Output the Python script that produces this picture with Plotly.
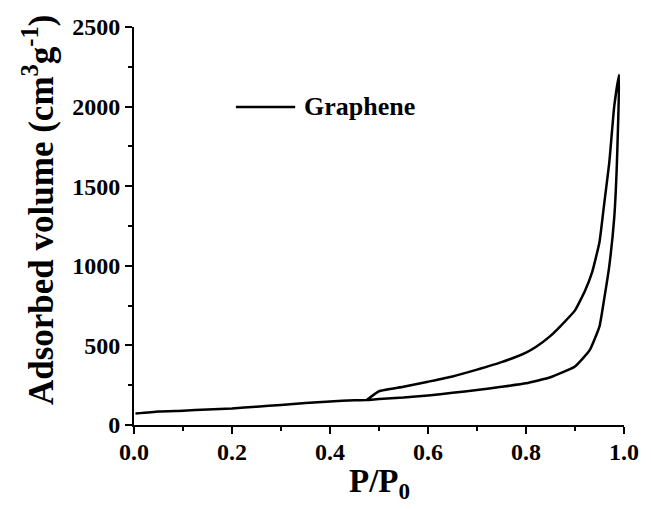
import plotly.graph_objects as go

# Adsorption branch (P/P0, adsorbed volume cm3/g)
p_ads = [0.003, 0.05, 0.10, 0.15, 0.20, 0.25, 0.30, 0.35, 0.40, 0.45, 0.475, 0.50, 0.55, 0.60,
         0.65, 0.70, 0.75, 0.80, 0.85, 0.90, 0.93, 0.95, 0.96, 0.97, 0.98, 0.985, 0.99]
v_ads = [72, 85, 90, 97, 104, 115, 126, 138, 148, 155, 157, 163, 172, 185,
         202, 220, 240, 262, 300, 368, 470, 620, 800, 1000, 1300, 1600, 2200]

# Desorption branch
p_des = [0.98, 0.97, 0.96, 0.95, 0.935, 0.92, 0.90, 0.87, 0.85, 0.82, 0.80, 0.75, 0.70,
         0.65, 0.60, 0.55, 0.50, 0.475]
v_des = [2000, 1650, 1400, 1150, 960, 840, 720, 620, 560, 490, 455, 395, 348,
         305, 272, 240, 212, 157]

series_name = "Graphene"
x_ticks = [0.0, 0.2, 0.4, 0.6, 0.8, 1.0]
x_ticklabels = ["0.0", "0.2", "0.4", "0.6", "0.8", "1.0"]
y_ticks = [0, 500, 1000, 1500, 2000, 2500]

FONT = "Liberation Serif"

fig = go.Figure()
fig.add_trace(go.Scatter(
    x=p_ads + p_des, y=v_ads + v_des, mode="lines",
    line=dict(color="black", width=2.5, shape="spline", smoothing=0.4),
    name=series_name, showlegend=False,
))

axis_common = dict(
    showline=True, linecolor="black", linewidth=2, mirror=False,
    ticks="outside", tickcolor="black", tickwidth=2, ticklen=7,
    showgrid=False, zeroline=False,
    tickfont=dict(family=FONT, size=24, color="black", weight="bold"),
)

fig.update_layout(
    width=651, height=509,
    margin=dict(l=134, r=20, t=27, b=84),
    plot_bgcolor="white", paper_bgcolor="white",
    xaxis=dict(range=[0, 1], tickvals=x_ticks, ticktext=x_ticklabels,
               minor=dict(dtick=0.1, ticks="outside", ticklen=4, tickwidth=2, tickcolor="black"),
               **axis_common),
    yaxis=dict(range=[0, 2500], tickvals=y_ticks,
               minor=dict(dtick=250, ticks="outside", ticklen=4, tickwidth=2, tickcolor="black"),
               **axis_common),
    showlegend=False,
)
fig.update_xaxes(ticklabelstandoff=-3)

# legend sample (line + label)
fig.add_shape(type="line", xref="paper", yref="paper", x0=0.208, x1=0.329, y0=0.799, y1=0.799,
              line=dict(color="black", width=2.5))
fig.add_annotation(xref="paper", yref="paper", x=0.343, y=0.799, xanchor="left", yanchor="middle",
                   text=series_name, showarrow=False,
                   font=dict(family=FONT, size=26, color="black", weight="bold"))

# axis titles
fig.add_annotation(xref="paper", yref="paper", x=0.5, y=-0.148, xanchor="center", yanchor="middle",
                   text="P/P<sub>0</sub>", showarrow=False,
                   font=dict(family=FONT, size=33, color="black", weight="bold"))
fig.add_annotation(xref="paper", yref="paper", x=-0.196, y=0.54, xanchor="center", yanchor="middle",
                   text="Adsorbed volume (cm<sup>3</sup>g<sup>-1</sup>)", textangle=-90, showarrow=False,
                   font=dict(family=FONT, size=35, color="black", weight="bold"))

fig.write_html("out.html")
